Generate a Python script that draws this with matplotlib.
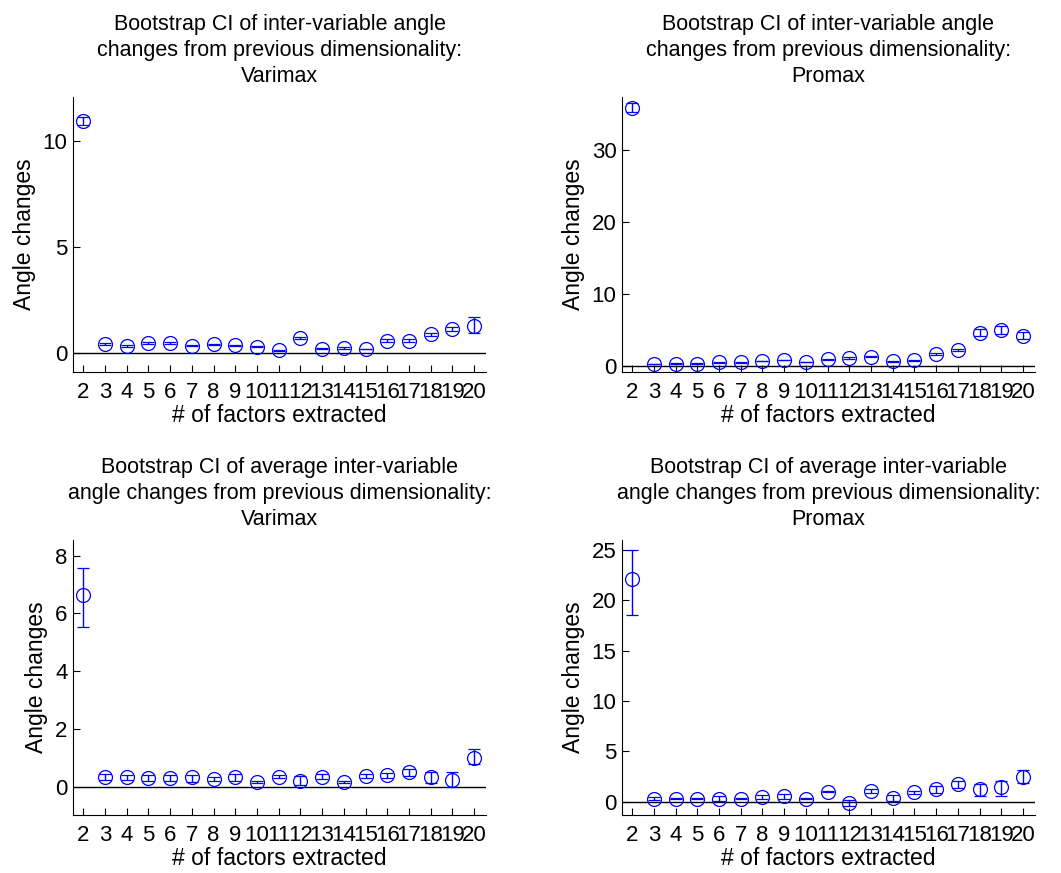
import matplotlib
matplotlib.use('Agg')
import matplotlib.pyplot as plt
import numpy as np

plt.rcParams['font.family'] = ['Liberation Sans', 'DejaVu Sans']

factors = np.arange(2, 21)

# top-left: inter-variable angle changes, Varimax
var_mean = [10.94, 0.44, 0.35, 0.47, 0.47, 0.36, 0.42, 0.38, 0.31, 0.14,
            0.72, 0.22, 0.25, 0.20, 0.60, 0.60, 0.89, 1.13, 1.29]
var_lo = [10.75, 0.41, 0.32, 0.42, 0.43, 0.33, 0.39, 0.35, 0.28, 0.12,
          0.67, 0.20, 0.22, 0.18, 0.55, 0.55, 0.83, 1.03, 0.94]
var_hi = [11.13, 0.47, 0.38, 0.52, 0.51, 0.39, 0.45, 0.41, 0.34, 0.16,
          0.77, 0.24, 0.28, 0.22, 0.65, 0.65, 0.95, 1.23, 1.73]

# top-right: inter-variable angle changes, Promax
pro_mean = [35.9, 0.28, 0.32, 0.32, 0.51, 0.51, 0.69, 0.83, 0.56, 0.93,
            1.11, 1.30, 0.65, 0.79, 1.67, 2.18, 4.63, 5.00, 4.21]
pro_lo = [35.3, 0.22, 0.27, 0.27, 0.45, 0.45, 0.63, 0.77, 0.50, 0.87,
          1.03, 1.22, 0.58, 0.72, 1.57, 2.02, 4.15, 4.50, 3.75]
pro_hi = [36.5, 0.34, 0.37, 0.37, 0.57, 0.57, 0.75, 0.89, 0.62, 0.99,
          1.19, 1.38, 0.72, 0.86, 1.77, 2.34, 5.10, 5.50, 4.70]

# bottom-left: average inter-variable angle changes, Varimax
avar_mean = [6.64, 0.35, 0.32, 0.31, 0.31, 0.32, 0.27, 0.32, 0.17, 0.35,
             0.21, 0.35, 0.17, 0.36, 0.39, 0.50, 0.35, 0.22, 1.00]
avar_lo = [5.54, 0.24, 0.22, 0.21, 0.21, 0.18, 0.21, 0.20, 0.13, 0.30,
           0.05, 0.28, 0.13, 0.29, 0.30, 0.38, 0.12, 0.00, 0.79]
avar_hi = [7.56, 0.45, 0.42, 0.41, 0.41, 0.42, 0.33, 0.44, 0.21, 0.41,
           0.36, 0.43, 0.21, 0.43, 0.48, 0.62, 0.52, 0.52, 1.32]

# bottom-right: average inter-variable angle changes, Promax
apro_mean = [22.18, 0.33, 0.33, 0.33, 0.33, 0.33, 0.46, 0.56, 0.33, 0.99,
             -0.10, 1.06, 0.40, 0.96, 1.26, 1.75, 1.23, 1.49, 2.48]
apro_lo = [18.54, 0.15, 0.27, 0.27, 0.10, 0.27, 0.28, 0.30, 0.27, 0.93,
           -0.40, 0.85, 0.10, 0.80, 0.90, 1.40, 0.56, 0.56, 1.92]
apro_hi = [25.00, 0.50, 0.39, 0.39, 0.55, 0.39, 0.64, 0.82, 0.39, 1.05,
           0.20, 1.27, 0.70, 1.12, 1.62, 2.10, 1.82, 2.05, 3.15]

titles = [
    'Bootstrap CI of inter-variable angle\nchanges from previous dimensionality:\nVarimax',
    'Bootstrap CI of inter-variable angle\nchanges from previous dimensionality:\nPromax',
    'Bootstrap CI of average inter-variable\nangle changes from previous dimensionality:\nVarimax',
    'Bootstrap CI of average inter-variable\nangle changes from previous dimensionality:\nPromax',
]
panels = [(var_mean, var_lo, var_hi), (pro_mean, pro_lo, pro_hi),
          (avar_mean, avar_lo, avar_hi), (apro_mean, apro_lo, apro_hi)]
ylims = [(-0.88, 12.07), (-0.83, 37.4), (-0.98, 8.54), (-1.31, 26.0)]
yticks = [[0, 5, 10], [0, 10, 20, 30], [0, 2, 4, 6, 8], [0, 5, 10, 15, 20, 25]]

fig = plt.figure(figsize=(10.61, 8.73), dpi=100)
positions = [(0.0688, 0.5739), (0.5862, 0.5739), (0.0688, 0.0664), (0.5862, 0.0664)]

for i, (m, lo, hi) in enumerate(panels):
    left, bottom = positions[i]
    ax = fig.add_axes([left, bottom, 0.3893, 0.315])
    m = np.array(m)
    err = [m - np.array(lo), np.array(hi) - m]
    ax.axhline(0, color='black', lw=1, zorder=1)
    ax.errorbar(factors, m, yerr=err, fmt='o', color='#0000ff', mfc='none',
                markersize=10, markeredgewidth=0.9, elinewidth=1, capsize=4,
                capthick=1, zorder=3)
    ax.set_xlim(1.53, 20.55)
    ax.set_ylim(*ylims[i])
    ax.set_xticks(factors)
    ax.set_yticks(yticks[i])
    ax.tick_params(direction='in', length=5, labelsize=16, width=0.8)
    ax.tick_params(axis='x', pad=7)
    ax.tick_params(axis='y', pad=4)
    ax.spines['top'].set_visible(False)
    ax.spines['right'].set_visible(False)
    ax.set_xlabel('# of factors extracted', fontsize=16.5, labelpad=1)
    ax.set_ylabel('Angle changes', fontsize=16.5, labelpad=5)
    ax.set_title(titles[i], fontsize=15.5, pad=11, linespacing=1.3)

fig.savefig('out.png', dpi=100)
